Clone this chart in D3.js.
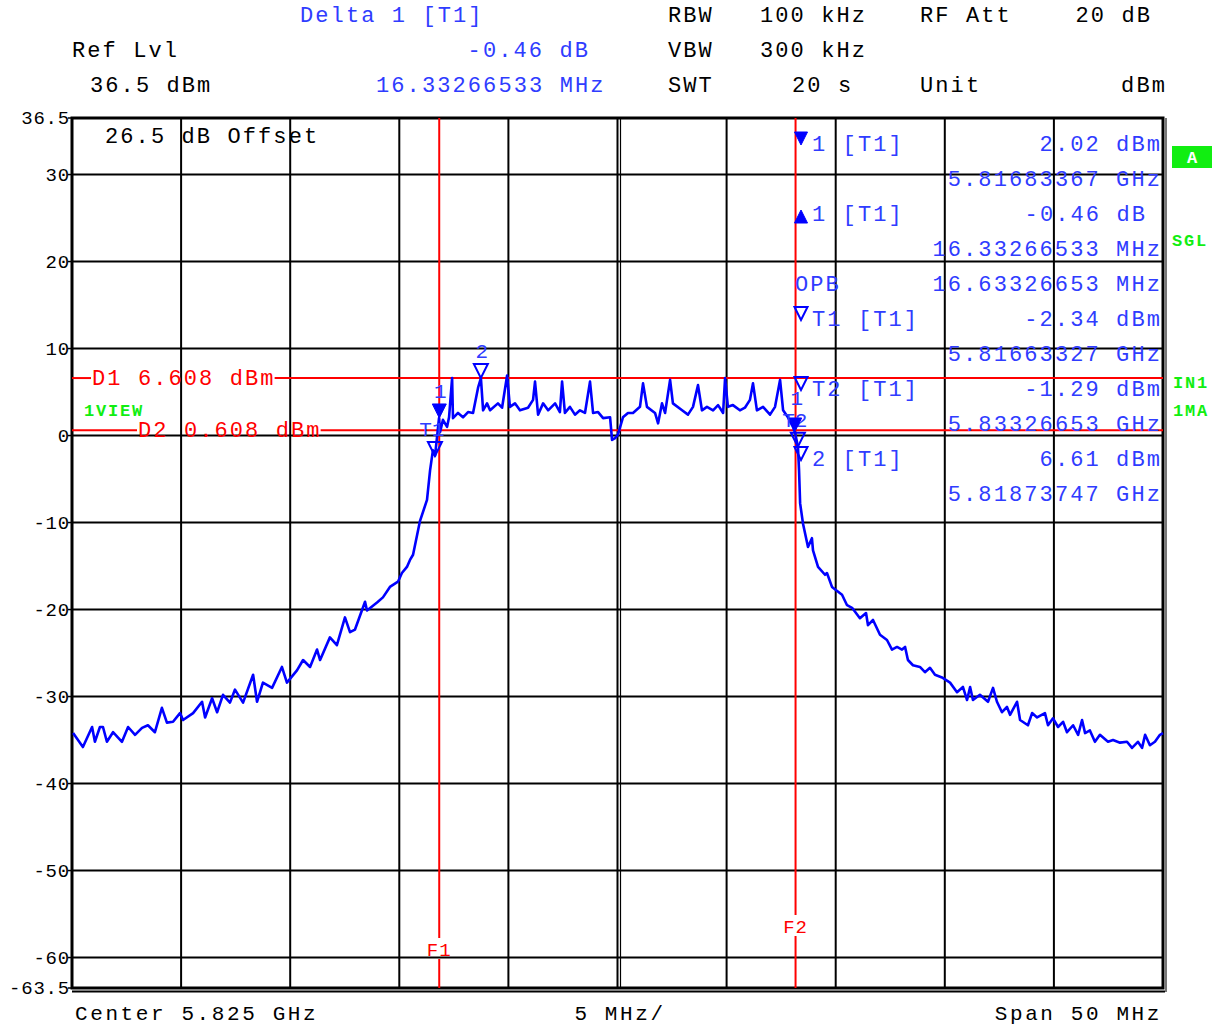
<!doctype html>
<html>
<head>
<meta charset="utf-8">
<title>Spectrum plot</title>
<style>
  body { margin: 0; background: #fff; }
  svg text { font-family: "Liberation Mono", "Courier New", monospace; }
</style>
</head>
<body>
<div id="chart"></div>
<script src="https://d3js.org/d3.v7.min.js"></script>
<script>
// sweep settings
var startMHz = 5800;
var spanMHz = 50;
var refLevel = 36.5;
var bottomLevel = -63.5;

// trace T1 (offset from start in MHz, level in dBm)
var traceOffsetMHz = [0.05, 0.50, 0.92, 1.05, 1.28, 1.42, 1.60, 1.88, 2.29, 2.57, 2.89, 3.21, 3.48, 3.80,
  4.12, 4.35, 4.63, 4.95, 5.09, 5.55, 5.96, 6.10, 6.42, 6.65, 6.92, 7.24, 7.47, 7.84, 8.30, 8.48,
  8.75, 9.17, 9.62, 9.85, 10.31, 10.59, 10.91, 11.23, 11.37, 11.82, 12.14, 12.51, 12.74, 12.97,
  13.43, 13.52, 13.98, 14.25, 14.57, 14.94, 15.12, 15.35, 15.49, 15.63, 15.95, 16.27, 16.41, 16.54,
  16.64, 16.82, 16.87, 17.00, 17.19, 17.28, 17.42, 17.46, 17.69, 17.92, 18.15, 18.38, 18.61, 18.74,
  18.84, 19.02, 19.16, 19.52, 19.71, 19.94, 20.07, 20.30, 20.53, 20.90, 21.13, 21.22, 21.36, 21.59,
  21.82, 22.14, 22.36, 22.46, 22.59, 22.82, 23.05, 23.28, 23.51, 23.74, 23.88, 24.11, 24.34, 24.66,
  24.75, 24.89, 25.02, 25.25, 25.48, 25.71, 26.03, 26.17, 26.35, 26.72, 26.86, 27.04, 27.18, 27.41,
  27.54, 27.96, 28.23, 28.46, 28.69, 28.87, 29.10, 29.38, 29.61, 29.84, 29.93, 30.06, 30.29, 30.61,
  30.84, 31.07, 31.21, 31.39, 31.67, 31.99, 32.22, 32.45, 32.59, 32.81, 33.04, 33.14, 33.27, 33.32,
  33.37, 33.50, 33.73, 33.91, 33.96, 34.19, 34.51, 34.60, 34.83, 35.29, 35.52, 35.75, 36.11, 36.39,
  36.48, 36.71, 37.03, 37.35, 37.58, 37.81, 38.04, 38.18, 38.31, 38.54, 38.86, 39.09, 39.32, 39.55,
  39.87, 40.24, 40.56, 40.83, 41.02, 41.16, 41.29, 41.61, 41.98, 42.21, 42.39, 42.62, 42.85, 42.99,
  43.31, 43.45, 43.81, 44.00, 44.23, 44.59, 44.73, 44.96, 45.19, 45.42, 45.60, 45.88, 46.11, 46.29,
  46.43, 46.65, 46.88, 47.11, 47.48, 47.71, 48.03, 48.35, 48.58, 48.85, 49.04, 49.18, 49.40, 49.63,
  49.86, 50.00];
var traceLevelDbm = [-34.2, -35.8, -33.5, -35.2, -33.5, -33.5, -35.2, -34.1, -35.2, -33.5, -34.4, -33.6, -33.3, -34.1,
  -31.3, -33.0, -32.9, -31.9, -32.7, -31.9, -30.6, -32.4, -30.2, -31.8, -29.8, -30.7, -29.2, -30.7, -27.5, -30.6,
  -28.4, -29.0, -26.6, -28.4, -27.0, -25.8, -26.6, -24.6, -25.8, -23.2, -24.1, -20.9, -22.6, -22.3,
  -19.1, -20.1, -19.2, -18.6, -17.4, -16.8, -15.8, -15.1, -14.3, -13.7, -9.8, -7.4, -4.0, -1.7,
  -2.3, 2.0, 0.4, 1.8, 1.0, 2.1, 6.6, 2.0, 2.6, 2.1, 2.7, 2.6, 5.5, 6.6,
  2.9, 3.7, 2.9, 3.7, 3.2, 6.9, 3.3, 3.7, 2.9, 3.2, 4.1, 6.2, 2.4, 3.7,
  2.9, 3.7, 2.7, 6.2, 2.6, 3.3, 2.4, 2.9, 2.6, 6.2, 2.6, 2.7, 2.0, 2.1,
  -0.5, -0.3, 0.1, 2.1, 2.6, 2.6, 3.3, 6.0, 3.3, 2.6, 1.4, 3.7, 2.6, 6.4,
  3.7, 2.9, 2.4, 3.3, 5.8, 2.9, 3.3, 2.9, 3.5, 2.6, 6.6, 3.3, 3.5, 2.9,
  3.2, 4.1, 6.0, 2.9, 3.3, 2.4, 3.3, 6.4, 2.9, 2.1, 1.0, 0.3, -1.3, -4.0,
  -7.8, -10.1, -12.8, -11.8, -13.2, -15.1, -16.0, -15.8, -17.4, -18.3, -19.5, -19.8, -21.0, -20.4,
  -21.8, -21.2, -22.9, -23.5, -24.6, -24.3, -24.6, -24.3, -25.8, -26.4, -26.6, -27.2, -26.7, -27.5,
  -27.8, -28.4, -29.5, -28.9, -30.4, -28.9, -30.4, -29.8, -30.6, -29.0, -30.6, -31.8, -31.2, -32.1,
  -30.6, -32.7, -33.3, -31.9, -32.4, -31.9, -33.3, -32.5, -33.5, -32.9, -34.1, -33.3, -34.4, -32.7,
  -34.2, -33.9, -35.2, -34.4, -35.2, -35.0, -35.3, -35.2, -35.9, -35.2, -35.9, -34.4, -35.6, -35.2,
  -34.4, -34.2];

// markers on the trace
var markerLabels = ["1", "2", "T1", "T2"];
var markerOffsetMHz = [16.83367, 18.73747, 16.63327, 33.26653];
var markerLevelDbm = [2.02, 6.61, -2.34, -1.29];
var markerFilled = [true, false, false, false];
var deltaOffsetMHz = 16.33266533;
var deltaLevelDb = -0.46;

// display lines and frequency lines
var dLineNames = ["D1", "D2"];
var dLineLevels = [6.608, 0.608];
var fLineNames = ["F1", "F2"];
var fLineOffsetMHz = [16.83, 33.16];

// axis labels
var yTickValues = [36.5, 30, 20, 10, 0, -10, -20, -30, -40, -50, -60, -63.5];
var yGridValues = [30, 20, 10, 0, -10, -20, -30, -40, -50, -60];

// marker info table
var tableLeft = ["1 [T1]", "", "1 [T1]", "", "OPB", "T1 [T1]", "", "T2 [T1]", "", "2 [T1]", ""];
var tableRight = ["2.02 dBm", "5.81683367 GHz", "-0.46 dB", "16.33266533 MHz", "16.63326653 MHz",
  "-2.34 dBm", "5.81663327 GHz", "-1.29 dBm", "5.83326653 GHz", "6.61 dBm", "5.81873747 GHz"];
var tableIcons = ["down", null, "up", null, null, "open", null, "open", null, "open", null];

var W = 1221, H = 1027;
var pL = 72, pR = 1163, pT = 118, pB = 988;
var blue = "#0000ff", tblue = "#2f3cff", red = "#ff0000", green = "#11ee11";

var svg = d3.select("#chart").append("svg").attr("width", W).attr("height", H);

var x = d3.scaleLinear().domain([0, spanMHz]).range([pL, pR]);
var y = d3.scaleLinear().domain([bottomLevel, refLevel]).range([pB, pT]);

function txt(px, py, s, fill, size, anchor, extra) {
  var t = svg.append("text").attr("x", px).attr("y", py).text(s)
    .attr("fill", fill).attr("font-size", size)
    .attr("letter-spacing", extra && extra.ls != null ? extra.ls : 2.1)
    .attr("text-anchor", anchor || "start")
    .attr("xml:space", "preserve");
  if (extra && extra.bold) t.attr("font-weight", "bold");
  return t;
}

// grid
var grid = svg.append("g").attr("stroke", "#000").attr("stroke-width", 2);
grid.selectAll("line.v").data(d3.range(5, spanMHz, 5)).enter().append("line")
  .attr("x1", function(d) { return x(d); }).attr("x2", function(d) { return x(d); })
  .attr("y1", pT).attr("y2", pB);
grid.append("line").attr("x1", x(25) + 3).attr("x2", x(25) + 3).attr("y1", pT).attr("y2", pB)
  .attr("stroke-width", 1.2);
grid.selectAll("line.h").data(yGridValues).enter().append("line")
  .attr("x1", pL).attr("x2", pR)
  .attr("y1", function(d) { return y(d); }).attr("y2", function(d) { return y(d); });

// frame
svg.append("rect").attr("x", pL).attr("y", pT).attr("width", pR - pL).attr("height", pB - pT)
  .attr("fill", "none").attr("stroke", "#000").attr("stroke-width", 3);
svg.append("line").attr("x1", pL).attr("x2", pR + 2).attr("y1", pB + 3.5).attr("y2", pB + 3.5)
  .attr("stroke", "#000").attr("stroke-width", 2);
svg.append("line").attr("x1", pR + 3).attr("x2", pR + 3).attr("y1", pT).attr("y2", pB + 4)
  .attr("stroke", "#777").attr("stroke-width", 2);

// y labels
yTickValues.forEach(function(v) {
  txt(pL - 2, y(v) + 6, String(v), "#000", 19, "end", { ls: 0.8 });
  svg.append("line").attr("x1", pL - 4).attr("x2", pL).attr("y1", y(v)).attr("y2", y(v))
    .attr("stroke", "#000").attr("stroke-width", 1.5);
});

// display lines with a gap for the label
var dLabelX = [92, 138];
dLineNames.forEach(function(n, i) {
  var yy = y(dLineLevels[i]);
  var t = txt(dLabelX[i], yy + 7, n + " " + dLineLevels[i] + " dBm", red, 22, "start");
  var len = t.node().getComputedTextLength();
  svg.append("line").attr("x1", pL).attr("x2", dLabelX[i] - 1).attr("y1", yy).attr("y2", yy)
    .attr("stroke", red).attr("stroke-width", 2);
  svg.append("line").attr("x1", dLabelX[i] + len - 1).attr("x2", pR).attr("y1", yy).attr("y2", yy)
    .attr("stroke", red).attr("stroke-width", 2);
});

// frequency lines
var fLabelY = [949, 926];
fLineNames.forEach(function(n, i) {
  var xx = x(fLineOffsetMHz[i]);
  svg.append("line").attr("x1", xx).attr("x2", xx).attr("y1", pT).attr("y2", fLabelY[i] - 11)
    .attr("stroke", red).attr("stroke-width", 2);
  svg.append("line").attr("x1", xx).attr("x2", xx).attr("y1", fLabelY[i] + 10).attr("y2", pB)
    .attr("stroke", red).attr("stroke-width", 2);
  txt(xx, fLabelY[i] + 7, n, red, 19, "middle", { ls: 1 });
});

// trace
var pts = traceOffsetMHz.map(function(f, i) { return [f, traceLevelDbm[i]]; });
var line = d3.line().x(function(d) { return x(d[0]); }).y(function(d) { return y(d[1]); });
svg.append("path").datum(pts).attr("d", line).attr("fill", "none")
  .attr("stroke", blue).attr("stroke-width", 2.6).attr("stroke-linejoin", "round");

// triangles
function tri(cx, tipY, kind, size) {
  var s = size || 14;
  var p;
  if (kind === "up") p = [[cx - s / 2, tipY], [cx + s / 2, tipY], [cx, tipY - s]];
  else p = [[cx - s / 2, tipY - s], [cx + s / 2, tipY - s], [cx, tipY]];
  svg.append("path").attr("d", "M" + p.join("L") + "Z")
    .attr("fill", kind === "open" ? "none" : blue)
    .attr("stroke", blue).attr("stroke-width", kind === "open" ? 2 : 1);
}

// marker symbols on the trace
markerLabels.forEach(function(m, i) {
  var cx = x(markerOffsetMHz[i]), cy = y(markerLevelDbm[i]);
  tri(cx, cy, markerFilled[i] ? "down" : "open", 14);
  txt(cx - (m.length > 1 ? 3 : -1), cy - 20, m, tblue, 21, "middle", { ls: 0 });
});
// delta marker
var dX = x(markerOffsetMHz[0] + deltaOffsetMHz), dY = y(markerLevelDbm[0] + deltaLevelDb);
tri(dX, dY + 8, "down", 12);
txt(dX + 1, dY - 17, "1", tblue, 21, "middle", { ls: 0 });

// marker table
var rowY = d3.range(tableRight.length).map(function(i) { return 151 + i * 35; });
tableRight.forEach(function(s, i) {
  var rx = s === "-0.46 dB" ? 1160 - 15 : 1160;
  txt(rx + 2, rowY[i], s, tblue, 22, "end");
  if (tableLeft[i]) txt(tableLeft[i] === "OPB" ? 795 : 812, rowY[i], tableLeft[i], tblue, 22, "start");
  if (tableIcons[i]) {
    if (tableIcons[i] === "up") tri(801, rowY[i] + 2, "up", 13);
    else tri(801, rowY[i] - 6, tableIcons[i], 13);
  }
});

// header
txt(300, 22, "Delta 1 [T1]", tblue, 22);
txt(590, 57, "-0.46 dB", tblue, 22, "end");
txt(376, 92, "16.33266533 MHz", tblue, 22);
txt(72, 57, "Ref Lvl", "#000", 22);
txt(90, 92, "36.5 dBm", "#000", 22);
txt(668, 22, "RBW", "#000", 22);
txt(668, 57, "VBW", "#000", 22);
txt(668, 92, "SWT", "#000", 22);
txt(760, 22, "100 kHz", "#000", 22);
txt(760, 57, "300 kHz", "#000", 22);
txt(792, 92, "20 s", "#000", 22);
txt(920, 22, "RF Att", "#000", 22);
txt(920, 92, "Unit", "#000", 22);
txt(1152, 22, "20 dB", "#000", 22, "end");
txt(1167, 92, "dBm", "#000", 22, "end");

// inside the plot
txt(105, 143, "26.5 dB Offset", "#000", 22);
txt(84, 416, "1VIEW", green, 17, "start", { bold: true, ls: 1.8 });

// bottom annotations
txt(75, 1020, "Center 5.825 GHz", "#000", 21, "start", { ls: 2.6 });
txt(620, 1020, "5 MHz/", "#000", 21, "middle", { ls: 2.6 });
txt(1162, 1020, "Span 50 MHz", "#000", 21, "end", { ls: 2.6 });

// right side status
svg.append("rect").attr("x", 1172).attr("y", 146).attr("width", 40).attr("height", 22).attr("fill", green);
txt(1192, 163, "A", "#fff", 17, "middle", { bold: true, ls: 0 });
txt(1172, 246, "SGL", green, 17, "start", { bold: true, ls: 1.8 });
txt(1173, 388, "IN1", green, 17, "start", { bold: true, ls: 1.8 });
txt(1173, 416, "1MA", green, 17, "start", { bold: true, ls: 1.8 });
</script>
</body>
</html>
